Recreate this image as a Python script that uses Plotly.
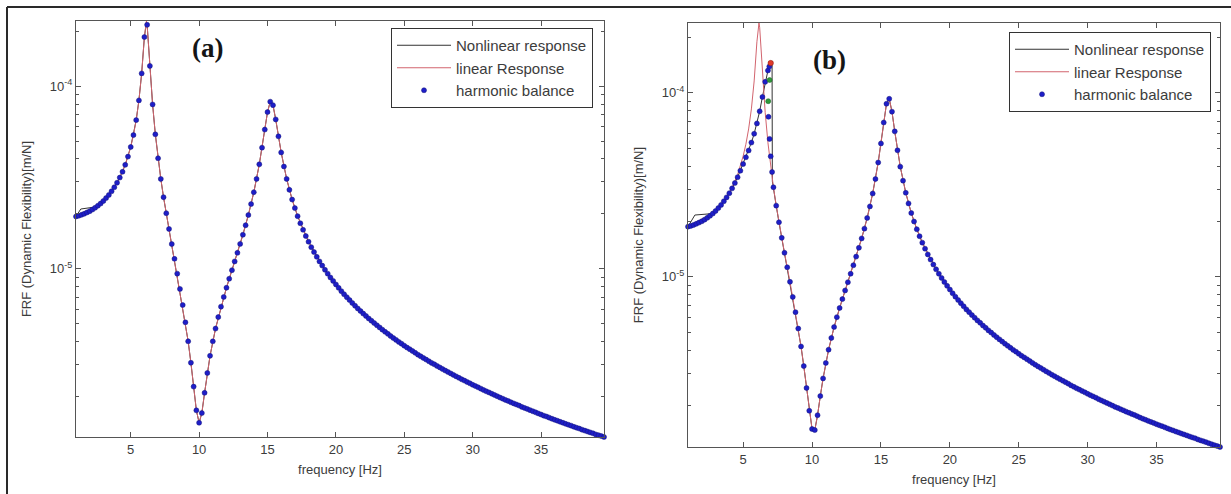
import plotly.graph_objects as go

# ---------------------------------------------------------------------------
# Panel (a): frequency response, all magnitudes stored as log10(FRF [m/N])
# ---------------------------------------------------------------------------
freq_a = [
    1.0, 1.2, 1.4, 1.6, 1.8, 2.0, 2.2, 2.4, 2.6, 2.8,
    3.0, 3.2, 3.4, 3.6, 3.8, 4.0, 4.2, 4.4, 4.6, 4.8,
    5.0, 5.2, 5.4, 5.6, 5.8, 6.0, 6.2, 6.4, 6.6, 6.8,
    7.0, 7.2, 7.4, 7.6, 7.8, 8.0, 8.2, 8.4, 8.6, 8.8,
    9.0, 9.2, 9.4, 9.6, 9.8, 10.0, 10.2, 10.4, 10.6, 10.8,
    11.0, 11.2, 11.4, 11.6, 11.8, 12.0, 12.2, 12.4, 12.6, 12.8,
    13.0, 13.2, 13.4, 13.6, 13.8, 14.0, 14.2, 14.4, 14.6, 14.8,
    15.0, 15.2, 15.4, 15.6, 15.8, 16.0, 16.2, 16.4, 16.6, 16.8,
    17.0, 17.2, 17.4, 17.6, 17.8, 18.0, 18.2, 18.4, 18.6, 18.8,
    19.0, 19.2, 19.4, 19.6, 19.8, 20.0, 20.2, 20.4, 20.6, 20.8,
    21.0, 21.2, 21.4, 21.6, 21.8, 22.0, 22.2, 22.4, 22.6, 22.8,
    23.0, 23.2, 23.4, 23.6, 23.8, 24.0, 24.2, 24.4, 24.6, 24.8,
    25.0, 25.2, 25.4, 25.6, 25.8, 26.0, 26.2, 26.4, 26.6, 26.8,
    27.0, 27.2, 27.4, 27.6, 27.8, 28.0, 28.2, 28.4, 28.6, 28.8,
    29.0, 29.2, 29.4, 29.6, 29.8, 30.0, 30.2, 30.4, 30.6, 30.8,
    31.0, 31.2, 31.4, 31.6, 31.8, 32.0, 32.2, 32.4, 32.6, 32.8,
    33.0, 33.2, 33.4, 33.6, 33.8, 34.0, 34.2, 34.4, 34.6, 34.8,
    35.0, 35.2, 35.4, 35.6, 35.8, 36.0, 36.2, 36.4, 36.6, 36.8,
    37.0, 37.2, 37.4, 37.6, 37.8, 38.0, 38.2, 38.4, 38.6, 38.8,
    39.0, 39.2, 39.4, 39.6,
]
hb_a_log = [
    -4.713, -4.709, -4.704, -4.698, -4.691, -4.684, -4.675, -4.665, -4.654, -4.642,
    -4.628, -4.612, -4.595, -4.575, -4.553, -4.528, -4.500, -4.468, -4.430, -4.385,
    -4.332, -4.267, -4.185, -4.077, -3.929, -3.730, -3.663, -3.888, -4.099, -4.263,
    -4.394, -4.507, -4.607, -4.695, -4.781, -4.864, -4.945, -5.026, -5.110, -5.198,
    -5.293, -5.397, -5.514, -5.645, -5.775, -5.843, -5.790, -5.679, -5.570, -5.476,
    -5.397, -5.327, -5.264, -5.207, -5.154, -5.103, -5.054, -5.007, -4.959, -4.912,
    -4.863, -4.813, -4.761, -4.705, -4.645, -4.580, -4.507, -4.427, -4.336, -4.237,
    -4.141, -4.084, -4.103, -4.181, -4.274, -4.362, -4.439, -4.507, -4.567, -4.620,
    -4.667, -4.711, -4.750, -4.786, -4.820, -4.851, -4.881, -4.908, -4.934, -4.959,
    -4.982, -5.005, -5.026, -5.047, -5.066, -5.085, -5.104, -5.122, -5.139, -5.155,
    -5.171, -5.187, -5.202, -5.217, -5.231, -5.245, -5.258, -5.272, -5.284, -5.297,
    -5.309, -5.321, -5.333, -5.345, -5.356, -5.368, -5.379, -5.389, -5.400, -5.410,
    -5.421, -5.431, -5.440, -5.450, -5.460, -5.470, -5.479, -5.488, -5.497, -5.506,
    -5.515, -5.523, -5.532, -5.540, -5.549, -5.557, -5.565, -5.573, -5.581, -5.589,
    -5.597, -5.605, -5.612, -5.620, -5.627, -5.635, -5.642, -5.649, -5.656, -5.664,
    -5.671, -5.677, -5.684, -5.691, -5.698, -5.705, -5.711, -5.718, -5.724, -5.731,
    -5.737, -5.743, -5.749, -5.756, -5.762, -5.768, -5.774, -5.780, -5.786, -5.792,
    -5.798, -5.804, -5.809, -5.815, -5.821, -5.827, -5.832, -5.838, -5.843, -5.849,
    -5.854, -5.859, -5.865, -5.870, -5.875, -5.881, -5.886, -5.891, -5.896, -5.901,
    -5.907, -5.911, -5.916, -5.921,
]

line_freq_a = [
    1.0, 1.35, 2.5, 2.6, 3.0, 3.4, 3.8, 4.2, 4.6, 5.0,
    5.2, 5.4, 5.6, 5.8, 6.0, 6.15, 6.2, 6.4, 6.6, 6.8,
    7.0, 7.2, 7.4, 7.6, 8.0, 8.4, 8.8, 9.2, 9.4, 9.6,
    9.8, 10.0, 10.2, 10.4, 10.6, 10.8, 11.2, 11.6, 12.0, 12.4,
    12.8, 13.2, 13.6, 14.0, 14.4, 14.6, 14.8, 15.0, 15.2, 15.4,
    15.6, 15.8, 16.0, 16.4, 16.8, 17.2, 17.6, 18.0, 19.0, 20.0,
    22.0, 24.0, 26.0, 28.0, 30.0, 32.0, 34.0, 36.0, 38.0, 39.6,
]
nonlinear_a_log = [
    -4.713, -4.672, -4.660, -4.654, -4.628, -4.595, -4.553, -4.500, -4.430, -4.332,
    -4.267, -4.185, -4.077, -3.929, -3.730, -3.650, -3.663, -3.888, -4.099, -4.263,
    -4.394, -4.507, -4.607, -4.695, -4.864, -5.026, -5.198, -5.397, -5.514, -5.645,
    -5.775, -5.843, -5.790, -5.679, -5.570, -5.476, -5.327, -5.207, -5.103, -5.007,
    -4.912, -4.813, -4.705, -4.580, -4.427, -4.336, -4.237, -4.141, -4.084, -4.103,
    -4.181, -4.274, -4.362, -4.507, -4.620, -4.711, -4.786, -4.851, -4.982, -5.085,
    -5.245, -5.368, -5.470, -5.557, -5.635, -5.705, -5.768, -5.827, -5.881, -5.921,
]
linear_a_log = [
    -4.710, -4.698, -4.658, -4.654, -4.628, -4.595, -4.553, -4.500, -4.430, -4.332,
    -4.267, -4.185, -4.077, -3.929, -3.730, -3.642, -3.663, -3.888, -4.099, -4.263,
    -4.394, -4.507, -4.607, -4.695, -4.864, -5.026, -5.198, -5.397, -5.514, -5.645,
    -5.775, -5.843, -5.790, -5.679, -5.570, -5.476, -5.327, -5.207, -5.103, -5.007,
    -4.912, -4.813, -4.705, -4.580, -4.427, -4.336, -4.237, -4.141, -4.084, -4.103,
    -4.181, -4.274, -4.362, -4.507, -4.620, -4.711, -4.786, -4.851, -4.982, -5.085,
    -5.245, -5.368, -5.470, -5.557, -5.635, -5.705, -5.768, -5.827, -5.881, -5.921,
]

# ---------------------------------------------------------------------------
# Panel (b): stronger excitation, hardening first mode with a jump near 7 Hz
# ---------------------------------------------------------------------------
freq_b = [
    1.0, 1.2, 1.4, 1.6, 1.8, 2.0, 2.2, 2.4, 2.6, 2.8,
    3.0, 3.2, 3.4, 3.6, 3.8, 4.0, 4.2, 4.4, 4.6, 4.8,
    5.0, 5.2, 5.4, 5.6, 5.8, 6.0, 6.2, 6.4, 6.6, 6.8,
    6.9, 6.84, 6.92, 7.0, 7.1,
    7.2, 7.4, 7.6, 7.8, 8.0, 8.2, 8.4, 8.6, 8.8, 9.0,
    9.2, 9.4, 9.6, 9.8, 10.0, 10.2, 10.4, 10.6, 10.8, 11.0,
    11.2, 11.4, 11.6, 11.8, 12.0, 12.2, 12.4, 12.6, 12.8, 13.0,
    13.2, 13.4, 13.6, 13.8, 14.0, 14.2, 14.4, 14.6, 14.8, 15.0,
    15.2, 15.4, 15.6, 15.8, 16.0, 16.2, 16.4, 16.6, 16.8, 17.0,
    17.2, 17.4, 17.6, 17.8, 18.0, 18.2, 18.4, 18.6, 18.8, 19.0,
    19.2, 19.4, 19.6, 19.8, 20.0, 20.2, 20.4, 20.6, 20.8, 21.0,
    21.2, 21.4, 21.6, 21.8, 22.0, 22.2, 22.4, 22.6, 22.8, 23.0,
    23.2, 23.4, 23.6, 23.8, 24.0, 24.2, 24.4, 24.6, 24.8, 25.0,
    25.2, 25.4, 25.6, 25.8, 26.0, 26.2, 26.4, 26.6, 26.8, 27.0,
    27.2, 27.4, 27.6, 27.8, 28.0, 28.2, 28.4, 28.6, 28.8, 29.0,
    29.2, 29.4, 29.6, 29.8, 30.0, 30.2, 30.4, 30.6, 30.8, 31.0,
    31.2, 31.4, 31.6, 31.8, 32.0, 32.2, 32.4, 32.6, 32.8, 33.0,
    33.2, 33.4, 33.6, 33.8, 34.0, 34.2, 34.4, 34.6, 34.8, 35.0,
    35.2, 35.4, 35.6, 35.8, 36.0, 36.2, 36.4, 36.6, 36.8, 37.0,
    37.2, 37.4, 37.6, 37.8, 38.0, 38.2, 38.4, 38.6, 38.8, 39.0,
    39.2, 39.4, 39.6,
]
hb_b_log = [
    -4.727, -4.723, -4.718, -4.712, -4.705, -4.698, -4.689, -4.679, -4.668, -4.656,
    -4.642, -4.626, -4.609, -4.589, -4.568, -4.545, -4.519, -4.490, -4.458, -4.423,
    -4.387, -4.350, -4.313, -4.270, -4.222, -4.166, -4.100, -4.022, -3.940, -3.878,
    -3.857, -4.130, -4.250, -4.345, -4.430,
    -4.513, -4.613, -4.703, -4.788, -4.869, -4.948, -5.027, -5.109, -5.192, -5.281,
    -5.378, -5.485, -5.604, -5.728, -5.827, -5.833, -5.752, -5.648, -5.552, -5.468,
    -5.396, -5.332, -5.273, -5.219, -5.169, -5.121, -5.074, -5.029, -4.983, -4.937,
    -4.890, -4.842, -4.791, -4.738, -4.680, -4.617, -4.547, -4.468, -4.378, -4.275,
    -4.161, -4.059, -4.032, -4.102, -4.209, -4.312, -4.401, -4.477, -4.543, -4.601,
    -4.653, -4.699, -4.741, -4.779, -4.814, -4.847, -4.878, -4.906, -4.933, -4.959,
    -4.983, -5.006, -5.028, -5.049, -5.069, -5.089, -5.108, -5.126, -5.143, -5.160,
    -5.177, -5.192, -5.208, -5.222, -5.237, -5.250, -5.265, -5.277, -5.291, -5.303,
    -5.316, -5.328, -5.340, -5.352, -5.364, -5.375, -5.386, -5.397, -5.407, -5.418,
    -5.429, -5.438, -5.448, -5.458, -5.468, -5.478, -5.487, -5.496, -5.505, -5.514,
    -5.523, -5.532, -5.540, -5.549, -5.557, -5.565, -5.573, -5.581, -5.590, -5.598,
    -5.606, -5.613, -5.621, -5.628, -5.636, -5.643, -5.650, -5.657, -5.665, -5.672,
    -5.679, -5.686, -5.693, -5.700, -5.707, -5.713, -5.720, -5.726, -5.733, -5.739,
    -5.745, -5.751, -5.758, -5.765, -5.771, -5.777, -5.783, -5.789, -5.795, -5.801,
    -5.807, -5.812, -5.818, -5.824, -5.830, -5.835, -5.841, -5.846, -5.852, -5.857,
    -5.862, -5.868, -5.873, -5.878, -5.884, -5.889, -5.894, -5.899, -5.905, -5.910,
    -5.915, -5.920, -5.925,
]
# turning-point solutions on the overhanging branch
peak_freq_b = [7.0]
peak_b_log = [-3.838]
unstable_freq_b = [6.92, 6.82]
unstable_b_log = [-3.930, -4.045]

line_freq_b = [
    1.0, 1.5, 2.8, 3.0, 3.4, 3.8, 4.2, 4.6, 5.0, 5.2,
    5.4, 5.6, 5.8, 6.0, 6.15, 6.2, 6.4, 6.6, 6.8, 7.0,
    7.1, 7.12, 7.2, 7.4, 7.6, 8.0, 8.4, 8.8, 9.2, 9.4,
    9.6, 9.8, 10.0, 10.2, 10.4, 10.6, 10.8, 11.2, 11.6, 12.0,
    12.4, 12.8, 13.2, 13.6, 14.0, 14.4, 14.8, 15.0, 15.2, 15.4,
    15.6, 15.8, 16.0, 16.2, 16.4, 16.8, 17.2, 17.6, 18.0, 19.0,
    20.0, 22.0, 24.0, 26.0, 28.0, 30.0, 32.0, 34.0, 36.0, 38.0,
    39.6,
]
nonlinear_b_log = [
    -4.727, -4.664, -4.656, -4.642, -4.609, -4.568, -4.519, -4.458, -4.387, -4.350,
    -4.313, -4.270, -4.222, -4.166, -4.117, -4.100, -4.022, -3.940, -3.878, -3.838,
    -3.830, -4.480, -4.513, -4.613, -4.703, -4.869, -5.027, -5.192, -5.378, -5.485,
    -5.604, -5.728, -5.827, -5.833, -5.752, -5.648, -5.552, -5.396, -5.273, -5.169,
    -5.074, -4.983, -4.890, -4.791, -4.680, -4.547, -4.378, -4.275, -4.161, -4.059,
    -4.032, -4.102, -4.209, -4.312, -4.401, -4.543, -4.653, -4.741, -4.814, -4.959,
    -5.069, -5.237, -5.364, -5.468, -5.557, -5.636, -5.707, -5.771, -5.830, -5.884,
    -5.925,
]
linear_b_log = [
    -4.725, -4.706, -4.656, -4.642, -4.609, -4.567, -4.514, -4.444, -4.344, -4.279,
    -4.196, -4.087, -3.935, -3.722, -3.620, -3.643, -3.888, -4.106, -4.271, -4.403,
    -4.458, -4.469, -4.513, -4.613, -4.703, -4.869, -5.027, -5.192, -5.378, -5.485,
    -5.604, -5.728, -5.827, -5.833, -5.752, -5.648, -5.552, -5.396, -5.273, -5.169,
    -5.074, -4.983, -4.890, -4.791, -4.680, -4.547, -4.378, -4.275, -4.161, -4.059,
    -4.032, -4.102, -4.209, -4.312, -4.401, -4.543, -4.653, -4.741, -4.814, -4.959,
    -5.069, -5.237, -5.364, -5.468, -5.557, -5.636, -5.707, -5.771, -5.830, -5.884,
    -5.925,
]

x_ticks = [5, 10, 15, 20, 25, 30, 35]
y_ticks = [1e-5, 1e-4]
y_tick_text = ["10<sup>-5</sup>", "10<sup>-4</sup>"]
y_minor = [2e-6, 3e-6, 4e-6, 5e-6, 6e-6, 7e-6, 8e-6, 9e-6,
           2e-5, 3e-5, 4e-5, 5e-5, 6e-5, 7e-5, 8e-5, 9e-5, 2e-4]


def mag(values):
    """log10 magnitudes -> FRF in m/N"""
    return [10.0 ** v for v in values]


W, H = 1231, 494
FONT = "Arial, Liberation Sans, sans-serif"
AX = "#555555"
TXT = "#3c3c3c"
NL_COLOR = "#333333"
LIN_COLOR = "#d2646e"
HB_COLOR = "#1e1ec8"
HB_EDGE = "#16167a"

fig = go.Figure()

panels = [
    ("x", "y", "legend", line_freq_a, nonlinear_a_log, linear_a_log, freq_a, hb_a_log),
    ("x2", "y2", "legend2", line_freq_b, nonlinear_b_log, linear_b_log, freq_b, hb_b_log),
]
for xa, ya, lg, lf, nl, lin, hf, hb in panels:
    fig.add_trace(go.Scatter(
        x=lf, y=mag(nl), mode="lines", name="Nonlinear response",
        line=dict(color=NL_COLOR, width=1), xaxis=xa, yaxis=ya, legend=lg,
        cliponaxis=False))
    fig.add_trace(go.Scatter(
        x=lf, y=mag(lin), mode="lines", name="linear Response",
        line=dict(color=LIN_COLOR, width=1), xaxis=xa, yaxis=ya, legend=lg,
        cliponaxis=False))
    fig.add_trace(go.Scatter(
        x=hf, y=mag(hb), mode="markers", name="harmonic balance",
        marker=dict(color=HB_COLOR, size=5, line=dict(color=HB_EDGE, width=0.5)),
        xaxis=xa, yaxis=ya, legend=lg, cliponaxis=False))

fig.add_trace(go.Scatter(
    x=unstable_freq_b, y=mag(unstable_b_log), mode="markers", showlegend=False,
    marker=dict(color="#2f9a3a", size=5, line=dict(color="#1d5e24", width=0.5)),
    xaxis="x2", yaxis="y2", cliponaxis=False))
fig.add_trace(go.Scatter(
    x=peak_freq_b, y=mag(peak_b_log), mode="markers", showlegend=False,
    marker=dict(color="#e03a2a", size=5.5, line=dict(color="#8a1a10", width=0.5)),
    xaxis="x2", yaxis="y2", cliponaxis=False))


def xaxis(domain, anchor):
    return dict(
        domain=domain, anchor=anchor, range=[1.0, 39.6],
        tickvals=x_ticks, ticks="inside", ticklen=5, tickwidth=1, tickcolor=AX,
        mirror="allticks", showline=True, linecolor=AX, linewidth=1,
        showgrid=False, zeroline=False, automargin=False,
        tickfont=dict(family=FONT, size=13, color=TXT),
        title=dict(text="frequency [Hz]", standoff=9,
                   font=dict(family=FONT, size=13, color=TXT)),
    )


def yaxis(domain, anchor, rng):
    return dict(
        domain=domain, anchor=anchor, type="log", range=rng,
        tickvals=y_ticks, ticktext=y_tick_text, ticks="inside", ticklen=5,
        tickwidth=1, tickcolor=AX,
        minor=dict(tickvals=y_minor, ticks="inside", ticklen=3, tickcolor=AX,
                   showgrid=False),
        mirror="allticks", showline=True, linecolor=AX, linewidth=1,
        showgrid=False, zeroline=False, automargin=False,
        tickfont=dict(family=FONT, size=13, color=TXT),
        title=dict(text="FRF (Dynamic Flexibility)[m/N]", standoff=15,
                   font=dict(family=FONT, size=13, color=TXT)),
    )


def legend_box(x_right, y_top):
    return dict(
        x=x_right / W, xanchor="right", y=1 - y_top / H, yanchor="top",
        bgcolor="white", bordercolor="#333333", borderwidth=1,
        font=dict(family=FONT, size=15, color=TXT),
        itemwidth=54, tracegroupgap=0,
    )


def panel_tag(text, x_px, y_px):
    return dict(text=text, x=x_px / W, y=1 - y_px / H, xref="paper", yref="paper",
                xanchor="center", yanchor="middle", showarrow=False,
                font=dict(family="Times New Roman, Liberation Serif, serif",
                          size=27, color="#151515"))


fig.update_layout(
    width=W, height=H, autosize=False,
    margin=dict(l=0, r=0, t=0, b=0),
    paper_bgcolor="white", plot_bgcolor="white",
    xaxis=xaxis([76 / W, 604 / W], "y"),
    yaxis=yaxis([1 - 437 / H, 1 - 21 / H], "x", [-5.921, -3.642]),
    xaxis2=xaxis([688 / W, 1220 / W], "y2"),
    yaxis2=yaxis([1 - 447 / H, 1 - 23 / H], "x2", [-5.925, -3.620]),
    legend=legend_box(593, 28),
    legend2=legend_box(1211, 32),
    annotations=[
        panel_tag("<b>(a)</b>", 207, 48),
        panel_tag("<b>(b)</b>", 829, 60),
    ],
    shapes=[
        dict(type="line", xref="paper", yref="paper", x0=7 / W, x1=1.0,
             y0=1 - 7 / H, y1=1 - 7 / H, line=dict(color="#2a2a2a", width=2)),
        dict(type="line", xref="paper", yref="paper", x0=7 / W, x1=7 / W,
             y0=0, y1=1 - 7 / H, line=dict(color="#2a2a2a", width=2)),
    ],
    showlegend=True,
)

fig.write_html("out.html")
